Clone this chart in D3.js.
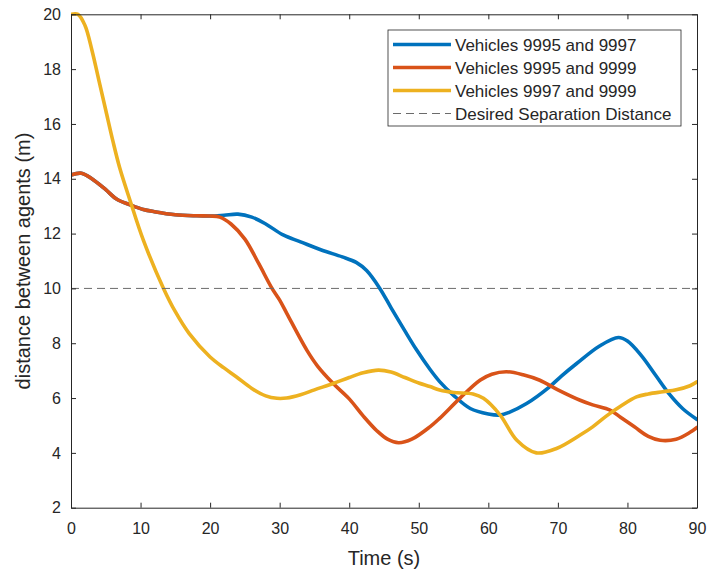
<!DOCTYPE html>
<html>
<head>
<meta charset="utf-8">
<script src="https://cdn.jsdelivr.net/npm/d3@7"></script>
<style>
  html, body { margin: 0; padding: 0; background: #fff; }
  text { font-family: "Liberation Sans", Arial, sans-serif; fill: #262626; }
</style>
</head>
<body>
<svg id="chart" width="708" height="572"></svg>
<script>
// Separation distance over time for each vehicle pair
const pair1 = [ // Vehicles 9995 and 9997
  [0,14.14],[1.5,14.2],[3,14.0],[5,13.6],[6.6,13.25],[8.5,13.05],[10.4,12.88],[12,12.8],[15,12.69],[18,12.65],
  [20,12.64],[22,12.67],[24,12.71],[26,12.6],[28,12.35],[30.5,11.95],[33,11.7],[36,11.4],[39,11.15],
  [41,10.95],[42.5,10.65],[44.4,10.0],[46,9.3],[48,8.45],[49.7,7.75],[51.6,7.05],[53,6.6],[55,6.1],[57.4,5.62],
  [60,5.42],[61.7,5.38],[63,5.48],[65.5,5.8],[68.8,6.41],[70.5,6.8],[72.7,7.26],[76,7.9],[78.7,8.21],
  [80,8.08],[82,7.55],[84,6.85],[86,6.15],[88,5.6],[90,5.22]
];
const pair2 = [ // Vehicles 9995 and 9999
  [0,14.14],[1.5,14.2],[3,14.0],[5,13.6],[6.6,13.25],[8.5,13.05],[10.4,12.88],[12,12.8],[15,12.69],[18,12.65],
  [20,12.64],[21.4,12.6],[23,12.35],[25,11.8],[27,10.9],[28.9,10.0],[30,9.57],[31,9.1],[33.9,7.75],[35.5,7.15],
  [37.7,6.53],[40,5.97],[42,5.35],[44,4.8],[45.5,4.5],[47.1,4.37],[49,4.5],[51.6,4.95],[53,5.26],[55.9,5.99],
  [58.8,6.65],[60.5,6.87],[62.6,6.96],[65,6.85],[67.4,6.65],[70,6.3],[73.2,5.92],[75,5.75],
  [77.5,5.56],[79,5.3],[81,4.95],[83,4.6],[84.7,4.46],[87,4.5],[89,4.75],[90,4.93]
];
const pair3 = [ // Vehicles 9997 and 9999
  [0,20],[1,20],[2,19.6],[3,18.7],[4,17.6],[5,16.5],[6,15.4],[7,14.4],[8.5,13.2],[10.4,11.76],
  [13.3,10.0],[15,9.15],[17,8.35],[20,7.5],[22,7.1],[23.8,6.77],[26,6.35],
  [28,6.08],[29.6,5.99],[31,6.0],[33,6.12],[35,6.3],[37.7,6.53],[40,6.75],[42,6.92],[44.2,7.02],
  [46,6.95],[48,6.75],[50,6.55],[51.6,6.42],[53,6.29],[55,6.2],[57.8,6.15],[59.3,5.99],[61.7,5.38],
  [64.1,4.46],[66.9,4.0],[69.8,4.16],[73.2,4.65],[75,4.95],[77,5.35],
  [79,5.7],[81.3,6.04],[83,6.15],[85.1,6.23],[87,6.3],[89,6.45],[90,6.59]
];
const desiredDistance = 10;
const seriesNames = ["Vehicles 9995 and 9997", "Vehicles 9995 and 9999", "Vehicles 9997 and 9999"];
const seriesColors = ["#0072BD", "#D95319", "#EDB120"];
const xTicks = [0, 10, 20, 30, 40, 50, 60, 70, 80, 90];
const yTicks = [2, 4, 6, 8, 10, 12, 14, 16, 18, 20];
const xLabel = "Time (s)";
const yLabel = "distance between agents (m)";
const guideLabel = "Desired Separation Distance";

const svg = d3.select("#chart");
const plotLeft = 71, plotRight = 697, plotTop = 14.3, plotBottom = 507.7;
const x = d3.scaleLinear().domain([0, 90]).range([plotLeft, plotRight]);
const y = d3.scaleLinear().domain([2, 20]).range([plotBottom, plotTop]);
const axisColor = "#262626";

// Clip region for the plot
svg.append("defs").append("clipPath").attr("id", "plotClip")
  .append("rect").attr("x", plotLeft).attr("y", plotTop - 3)
  .attr("width", plotRight - plotLeft).attr("height", plotBottom - plotTop + 3);

// Data lines
const line = d3.line().x(d => x(d[0])).y(d => y(d[1])).curve(d3.curveCatmullRom.alpha(0.5));
const plot = svg.append("g").attr("clip-path", "url(#plotClip)");
[pair1, pair2, pair3].forEach((s, i) => {
  plot.append("path").datum(s)
    .attr("d", line)
    .attr("fill", "none")
    .attr("stroke", seriesColors[i])
    .attr("stroke-width", 3.6)
    .attr("stroke-linejoin", "round")
    .attr("stroke-linecap", "round");
});

// Desired separation guide
plot.append("line")
  .attr("x1", x(0)).attr("x2", x(90))
  .attr("y1", y(desiredDistance)).attr("y2", y(desiredDistance))
  .attr("stroke", "#6b6b6b").attr("stroke-width", 1)
  .attr("stroke-dasharray", "8,5");

// Axes with inward ticks on all four sides
const tickLen = 5;
svg.append("g").attr("transform", `translate(0,${plotBottom})`)
  .call(d3.axisBottom(x).tickValues(xTicks).tickSizeInner(-tickLen).tickSizeOuter(0).tickPadding(15))
  .call(g => g.selectAll("text").attr("font-size", 16).attr("fill", axisColor))
  .call(g => g.selectAll("line, path").attr("stroke", axisColor));
svg.append("g").attr("transform", `translate(0,${plotTop})`)
  .call(d3.axisTop(x).tickValues(xTicks).tickSizeInner(-tickLen).tickSizeOuter(0).tickFormat(""))
  .call(g => g.selectAll("line, path").attr("stroke", axisColor));
svg.append("g").attr("transform", `translate(${plotLeft},0)`)
  .call(d3.axisLeft(y).tickValues(yTicks).tickSizeInner(-tickLen).tickSizeOuter(0).tickPadding(10))
  .call(g => g.selectAll("text").attr("font-size", 16).attr("fill", axisColor))
  .call(g => g.selectAll("line, path").attr("stroke", axisColor));
svg.append("g").attr("transform", `translate(${plotRight},0)`)
  .call(d3.axisRight(y).tickValues(yTicks).tickSizeInner(-tickLen).tickSizeOuter(0).tickFormat(""))
  .call(g => g.selectAll("line, path").attr("stroke", axisColor));

// Axis titles
svg.append("text").attr("x", (plotLeft + plotRight) / 2).attr("y", 565)
  .attr("text-anchor", "middle").attr("font-size", 20).text(xLabel);
svg.append("text")
  .attr("transform", `translate(30,${(plotTop + plotBottom) / 2}) rotate(-90)`)
  .attr("text-anchor", "middle").attr("font-size", 20).text(yLabel);

// Legend
const lg = svg.append("g").attr("transform", "translate(388,30)");
lg.append("rect").attr("x", 0).attr("y", 0).attr("width", 293).attr("height", 96)
  .attr("fill", "#fff").attr("stroke", axisColor).attr("stroke-width", 0.8);
const entries = seriesNames.map((n, i) => ({ name: n, color: seriesColors[i], dash: null, w: 3.6 }))
  .concat([{ name: guideLabel, color: "#6b6b6b", dash: "8,5", w: 1 }]);
entries.forEach((e, i) => {
  const cy = 14.5 + i * 23;
  lg.append("line").attr("x1", 5).attr("x2", 63).attr("y1", cy).attr("y2", cy)
    .attr("stroke", e.color).attr("stroke-width", e.w)
    .attr("stroke-dasharray", e.dash);
  lg.append("text").attr("x", 67).attr("y", cy + 6).attr("font-size", 17).text(e.name);
});
</script>
</body>
</html>
